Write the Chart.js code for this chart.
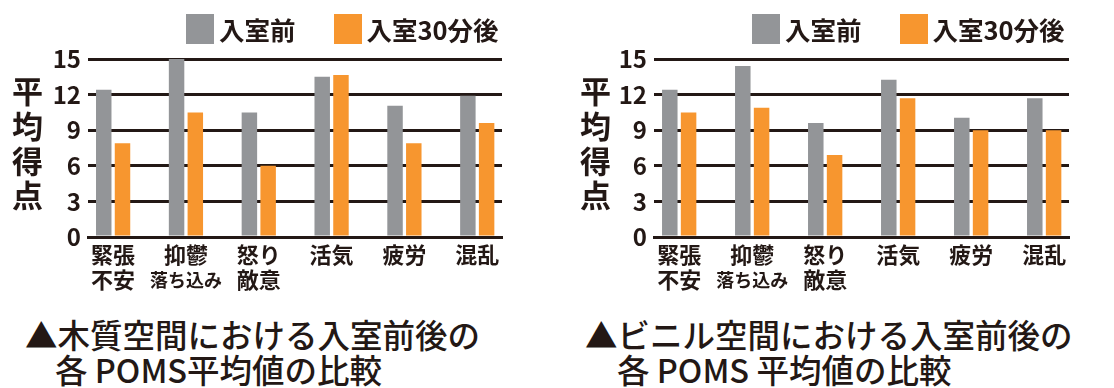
<!DOCTYPE html>
<html lang="ja">
<head>
<meta charset="utf-8">
<script src="https://cdn.jsdelivr.net/npm/chart.js@4.4.0/dist/chart.umd.min.js"></script>
<style>
  body { margin: 0; background: #fff; font-family: "Noto Sans CJK JP", sans-serif; color: #231815; }
  #page { position: relative; width: 1114px; height: 388px; overflow: hidden; }
  .holder { position: absolute; top: 0; }
  .ytitle { position: absolute; top: 76px; font-size: 31px; font-weight: bold; writing-mode: vertical-rl; letter-spacing: 3.7px; line-height: 1; }
  .legend { position: absolute; top: 10px; display: flex; align-items: center; font-size: 25.5px; font-weight: bold; white-space: nowrap; }
  .legend .item { display: flex; align-items: center; margin-right: 38px; }
  .legend .sw { display: inline-block; width: 28px; height: 30px; margin-right: 5px; }
  .caption { position: absolute; font-size: 32.5px; font-weight: 500; line-height: 35px; white-space: nowrap; }
</style>
</head>
<body>
<div id="page">
  <div class="holder" style="left:0px"><canvas id="woodChart" width="510" height="300"></canvas></div>
  <div class="holder" style="left:557px"><canvas id="vinylChart" width="520" height="300"></canvas></div>

  <div class="ytitle" style="left:12px">平均得点</div>
  <div class="ytitle" style="left:580px">平均得点</div>

  <div class="legend" id="woodLegend" style="left:186px"></div>
  <div class="legend" id="vinylLegend" style="left:752px"></div>

  <div class="caption" style="left:25px; top:316px">▲木質空間における入室前後の</div>
  <div class="caption" style="left:55px; top:351px">各 POMS平均値の比較</div>
  <div class="caption" style="left:585px; top:316px">▲ビニル空間における入室前後の</div>
  <div class="caption" style="left:617px; top:351px">各 POMS 平均値の比較</div>
</div>

<script>
// POMS categories (second line is the sub label)
var categories = [['緊張', '不安'], ['抑鬱', '落ち込み'], ['怒り', '敵意'], ['活気'], ['疲労'], ['混乱']];
var seriesNames = ['入室前', '入室30分後'];

// wood room
var woodBefore = [12.4, 15.0, 10.5, 13.5, 11.05, 11.9];
var woodAfter  = [7.9, 10.5, 6.0, 13.65, 7.9, 9.6];

// vinyl room
var vinylBefore = [12.4, 14.4, 9.6, 13.25, 10.05, 11.7];
var vinylAfter  = [10.5, 10.9, 6.9, 11.7, 9.0, 9.0];

var yTicks = [0, 3, 6, 9, 12, 15];
var colors = ['#939598', '#f7962f'];
var ink = '#231815';

Chart.defaults.font.family = '"Noto Sans CJK JP", sans-serif';
Chart.defaults.color = ink;

// two line category labels under the x axis, sub label smaller if long
var catLabels = {
  id: 'catLabels',
  afterDraw: function(chart) {
    var ctx = chart.ctx;
    var xs = chart.scales.x;
    var bottom = chart.chartArea.bottom;
    ctx.save();
    ctx.fillStyle = ink;
    ctx.textAlign = 'center';
    ctx.textBaseline = 'middle';
    categories.forEach(function(lines, i) {
      var px = xs.getPixelForValue(i);
      lines.forEach(function(txt, j) {
        var size = txt.length > 2 ? 18 : 22;
        ctx.font = 'bold ' + size + 'px "Noto Sans CJK JP"';
        ctx.fillText(txt, px, bottom + 18 + j * 25);
      });
    });
    ctx.restore();
  }
};

function makeLegend(chart, holderId) {
  var holder = document.getElementById(holderId);
  chart.data.datasets.forEach(function(ds) {
    var item = document.createElement('div');
    item.className = 'item';
    var sw = document.createElement('span');
    sw.className = 'sw';
    sw.style.background = ds.backgroundColor;
    var t = document.createElement('span');
    t.textContent = ds.label;
    item.appendChild(sw);
    item.appendChild(t);
    holder.appendChild(item);
  });
}

function makeGraphic(canvasId, before, after, yAxisWidth) {
  var ctx = document.getElementById(canvasId).getContext('2d');
  return new Chart(ctx, {
    type: 'bar',
    data: {
      labels: categories.map(function(c, i) { return i; }),
      datasets: [
        { label: seriesNames[0], data: before, backgroundColor: colors[0] },
        { label: seriesNames[1], data: after, backgroundColor: colors[1] }
      ]
    },
    options: {
      responsive: false,
      animation: false,
      layout: { padding: { top: 59, right: 8, left: 0, bottom: 0 } },
      datasets: { bar: { categoryPercentage: 0.515, barPercentage: 0.825, borderWidth: 0 } },
      plugins: { legend: { display: false }, tooltip: { enabled: false } },
      scales: {
        x: {
          type: 'linear',
          offset: false,
          min: -0.345,
          max: 5.34,
          grid: { display: false, offset: false },
          border: { display: true, width: 3, color: ink, z: 1 },
          ticks: { display: false },
          afterBuildTicks: function(s) { s.ticks = categories.map(function(c, i) { return { value: i }; }); },
          afterFit: function(s) { s.height = 63; }
        },
        y: {
          min: 0,
          max: 15,
          grid: { color: ink, lineWidth: 3, drawTicks: false },
          border: { display: false },
          ticks: { padding: 7, font: { size: 24, weight: 'bold' }, color: ink },
          afterBuildTicks: function(s) { s.ticks = yTicks.map(function(v) { return { value: v }; }); },
          afterFit: function(s) { s.width = yAxisWidth; }
        }
      }
    },
    plugins: [catLabels]
  });
}

var woodChart = makeGraphic('woodChart', woodBefore, woodAfter, 88);
var vinylChart = makeGraphic('vinylChart', vinylBefore, vinylAfter, 97);
makeLegend(woodChart, 'woodLegend');
makeLegend(vinylChart, 'vinylLegend');
</script>
</body>
</html>
